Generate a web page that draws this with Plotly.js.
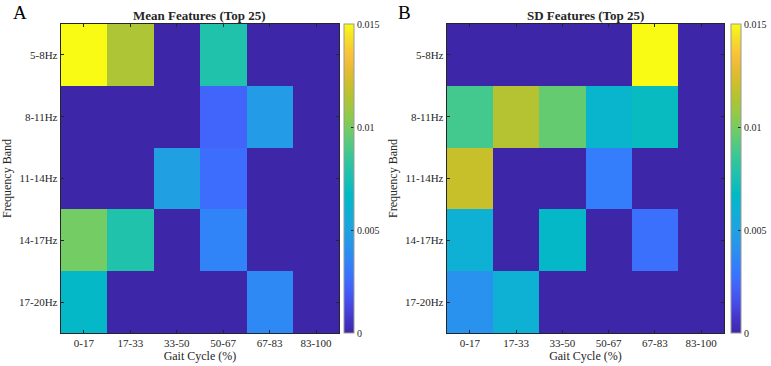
<!DOCTYPE html>
<html>
<head>
<meta charset="utf-8">
<script src="https://cdn.plot.ly/plotly-3.0.1.min.js"></script>
<style>
  html, body { margin: 0; padding: 0; background: #fff; }
  #chart { width: 771px; height: 366px; }
</style>
</head>
<body>
<div id="chart"></div>
<script>
// Gait-cycle bins (columns) and frequency bands (rows, top to bottom)
const gaitBins = ['0-17', '17-33', '33-50', '50-67', '67-83', '83-100'];
const freqBands = ['5-8Hz', '8-11Hz', '11-14Hz', '14-17Hz', '17-20Hz'];

// Feature importance of the mean features, one row per frequency band
const meanRow5to8   = [0.0150, 0.0113, 0, 0.0078, 0, 0];
const meanRow8to11  = [0, 0, 0, 0.0023, 0.0046, 0];
const meanRow11to14 = [0, 0, 0.0049, 0.0026, 0, 0];
const meanRow14to17 = [0.0099, 0.0078, 0, 0.0035, 0, 0];
const meanRow17to20 = [0.0066, 0, 0, 0, 0.0037, 0];

// Feature importance of the SD features, one row per frequency band
const sdRow5to8   = [0, 0, 0, 0, 0.0150, 0];
const sdRow8to11  = [0.0088, 0.0115, 0.0096, 0.0063, 0.0069, 0];
const sdRow11to14 = [0.0120, 0, 0, 0.0032, 0, 0];
const sdRow14to17 = [0.0059, 0, 0.0066, 0, 0.0027, 0];
const sdRow17to20 = [0.0041, 0.0059, 0, 0, 0, 0];

const colorTicks = [0, 0.005, 0.01, 0.015];
const colorTickText = ['0', '0.005', '0.01', '0.015'];

// Parula-like colour map
const parula = [
  [0.00, 'rgb(62,38,168)'],
  [0.05, 'rgb(69,55,204)'],
  [0.10, 'rgb(71,76,235)'],
  [0.15, 'rgb(66,99,251)'],
  [0.20, 'rgb(54,120,254)'],
  [0.25, 'rgb(45,138,243)'],
  [0.30, 'rgb(37,153,232)'],
  [0.35, 'rgb(27,166,222)'],
  [0.40, 'rgb(12,177,211)'],
  [0.45, 'rgb(2,186,196)'],
  [0.50, 'rgb(25,192,179)'],
  [0.55, 'rgb(45,197,160)'],
  [0.60, 'rgb(75,201,135)'],
  [0.65, 'rgb(108,204,106)'],
  [0.70, 'rgb(142,202,76)'],
  [0.75, 'rgb(172,197,54)'],
  [0.80, 'rgb(200,192,42)'],
  [0.85, 'rgb(228,187,50)'],
  [0.90, 'rgb(250,193,58)'],
  [0.95, 'rgb(245,221,40)'],
  [1.00, 'rgb(249,251,20)']
];

const serif = 'Liberation Serif, Times New Roman, serif';
const ink = '#262626';

const W = 771, H = 366;
const plotTop = 24, plotBottom = 333;
const yDom = [1 - plotBottom / H, 1 - plotTop / H];

function colorbarAt(leftPx) {
  return {
    x: leftPx / W, xanchor: 'left', xpad: 0,
    y: yDom[0], yanchor: 'bottom', ypad: 0,
    len: yDom[1] - yDom[0], lenmode: 'fraction',
    thickness: 10, thicknessmode: 'pixels',
    outlinewidth: 1, outlinecolor: '#9a9a9a',
    tickmode: 'array', tickvals: colorTicks, ticktext: colorTickText,
    ticks: 'inside', ticklen: 3, tickcolor: ink,
    tickfont: { family: serif, size: 10, color: ink }
  };
}

const traces = [
  {
    type: 'heatmap',
    x: gaitBins, y: freqBands,
    z: [meanRow5to8, meanRow8to11, meanRow11to14, meanRow14to17, meanRow17to20],
    zmin: 0, zmax: 0.015,
    colorscale: parula,
    xaxis: 'x', yaxis: 'y',
    colorbar: colorbarAt(346),
    hoverinfo: 'x+y+z'
  },
  {
    type: 'heatmap',
    x: gaitBins, y: freqBands,
    z: [sdRow5to8, sdRow8to11, sdRow11to14, sdRow14to17, sdRow17to20],
    zmin: 0, zmax: 0.015,
    colorscale: parula,
    xaxis: 'x2', yaxis: 'y2',
    colorbar: colorbarAt(735),
    hoverinfo: 'x+y+z'
  }
];

function xAxis(domPx, anchor) {
  return {
    domain: [domPx[0] / W, domPx[1] / W],
    anchor: anchor,
    type: 'category',
    categoryorder: 'array', categoryarray: gaitBins,
    showline: true, linecolor: ink, linewidth: 1, mirror: 'ticks',
    ticks: 'inside', ticklen: 3, tickcolor: ink,
    tickfont: { family: serif, size: 11, color: ink },
    title: { text: 'Gait Cycle (%)', font: { family: serif, size: 12, color: ink }, standoff: 2 },
    showgrid: false, zeroline: false, automargin: false, fixedrange: true
  };
}

function yAxis(anchor) {
  return {
    domain: yDom,
    anchor: anchor,
    type: 'category',
    categoryorder: 'array', categoryarray: freqBands,
    autorange: 'reversed',
    showline: true, linecolor: ink, linewidth: 1, mirror: 'ticks',
    ticks: 'inside', ticklen: 3, tickcolor: ink,
    tickfont: { family: serif, size: 11, color: ink },
    title: { text: 'Frequency Band', font: { family: serif, size: 12, color: ink }, standoff: 4 },
    showgrid: false, zeroline: false, automargin: false, fixedrange: true
  };
}

const layout = {
  width: W, height: H,
  margin: { l: 0, r: 0, t: 0, b: 0 },
  paper_bgcolor: '#fff', plot_bgcolor: '#fff',
  showlegend: false,
  xaxis: xAxis([61, 341], 'y'),
  yaxis: yAxis('x'),
  xaxis2: xAxis([449, 728], 'y2'),
  yaxis2: yAxis('x2'),
  annotations: [
    { text: '<b>Mean Features (Top 25)</b>', x: 201 / W, y: 1 - 15 / H, xref: 'paper', yref: 'paper',
      xanchor: 'center', yanchor: 'middle', showarrow: false, font: { family: serif, size: 13, color: ink } },
    { text: '<b>SD Features (Top 25)</b>', x: 589 / W, y: 1 - 15 / H, xref: 'paper', yref: 'paper',
      xanchor: 'center', yanchor: 'middle', showarrow: false, font: { family: serif, size: 13, color: ink } },
    { text: 'A', x: 11 / W, y: 1 - 12 / H, xref: 'paper', yref: 'paper',
      xanchor: 'left', yanchor: 'middle', showarrow: false, font: { family: serif, size: 19, color: '#000' } },
    { text: 'B', x: 398 / W, y: 1 - 12 / H, xref: 'paper', yref: 'paper',
      xanchor: 'left', yanchor: 'middle', showarrow: false, font: { family: serif, size: 19, color: '#000' } }
  ]
};

Plotly.newPlot('chart', traces, layout, { displayModeBar: false, staticPlot: true });
</script>
</body>
</html>
